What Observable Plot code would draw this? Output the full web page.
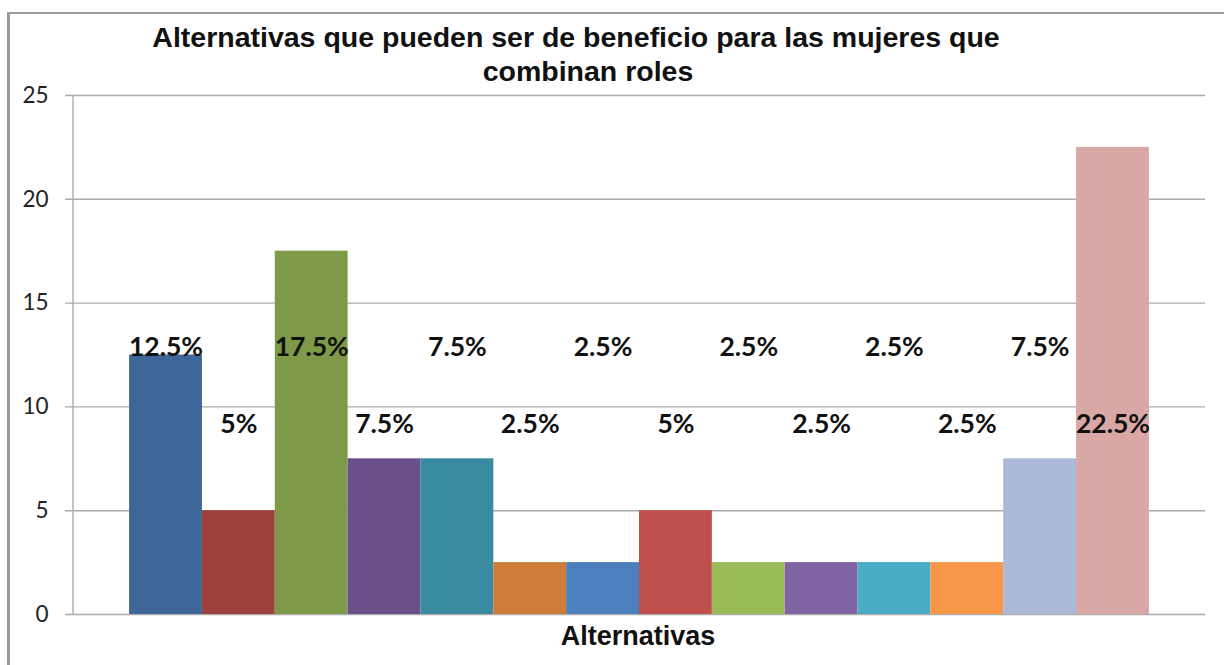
<!DOCTYPE html>
<html>
<head>
<meta charset="utf-8">
<script src="https://cdn.jsdelivr.net/npm/d3@7"></script>
<script src="https://cdn.jsdelivr.net/npm/@observablehq/plot@0.6"></script>
<style>
  html, body { margin: 0; padding: 0; background: #fff; }
  #wrap { position: relative; width: 1224px; height: 665px; overflow: hidden; background: #fff; }
  #border { position: absolute; left: 7px; top: 12px; width: 1400px; height: 800px;
            border-left: 3px solid #9a9a9a; border-top: 2px solid #9a9a9a; }
  #title { position: absolute; left: 0; width: 1152px; top: 20px; text-align: center;
           font-family: "Liberation Sans", Arial, sans-serif; font-weight: bold; font-size: 28.5px;
           line-height: 34px; color: #111; }
  #title .l2 { position: relative; left: 12px; }
  #xlabel { position: absolute; left: 0; width: 1276px; top: 619px; text-align: center;
           font-family: "Liberation Sans", Arial, sans-serif; font-weight: bold; font-size: 27px;
           line-height: 34px; color: #111; }
  #chart { position: absolute; left: 0; top: 0; }
</style>
</head>
<body>
<div id="wrap">
  <div id="border"></div>
  <div id="chart"></div>
  <div id="title">Alternativas que pueden ser de beneficio para las mujeres que<br><span class="l2">combinan roles</span></div>
  <div id="xlabel">Alternativas</div>
</div>
<script>
const categories = ["1","2","3","4","5","6","7","8","9","10","11","12","13","14"];
const values = [12.5, 5, 17.5, 7.5, 7.5, 2.5, 2.5, 5, 2.5, 2.5, 2.5, 2.5, 7.5, 22.5];
const labels = ["12.5%","5%","17.5%","7.5%","7.5%","2.5%","2.5%","5%","2.5%","2.5%","2.5%","2.5%","7.5%","22.5%"];
const colors = ["#3E6698","#9E413E","#7E9A48","#6A5088","#3A8BA1","#CE7C38","#4B7FBE","#C0504D","#9BBB59","#8064A2","#4BACC6","#F79646","#A9B9D7","#D9A7A6"];
const yTicks = [0, 5, 10, 15, 20, 25];

const data = categories.map((c, i) => ({cat: c, value: values[i], label: labels[i], color: colors[i], i}));

const chart = Plot.plot({
  width: 1224,
  height: 665,
  marginTop: 95,
  marginBottom: 51,
  marginLeft: 73,
  marginRight: 19,
  style: {background: "transparent", overflow: "visible"},
  x: {domain: categories, paddingInner: 0, paddingOuter: 0.77, align: 0.5, round: false, axis: null},
  y: {domain: [0, 25], ticks: yTicks, axis: null},
  marks: [
    Plot.ruleY(yTicks, {stroke: "#ababab", strokeWidth: 1.4, insetLeft: -8}),
    Plot.axisY({ticks: yTicks, tickSize: 0, tickPadding: 25, fontSize: 22.5, label: null,
                fontFamily: "Lato, 'Open Sans', sans-serif", fill: "#222"}),
    Plot.barY(data, {x: "cat", y: "value", fill: "color"}),
    Plot.text(data, {x: "cat", y: d => d.i % 2 === 0 ? 12.85 : 9.15, text: "label",
                     fontSize: 26.5, fontWeight: "bold", fill: "#111",
                     fontFamily: "Lato, 'Open Sans', sans-serif", lineAnchor: "middle"})
  ]
});

// vertical value-axis line, placed from the chart's own scales
const xs = chart.scale("x"), ys = chart.scale("y");
const x0 = xs.range[0];
d3.select(chart).append("line")
  .attr("x1", x0).attr("x2", x0)
  .attr("y1", ys.apply(25)).attr("y2", ys.apply(0))
  .attr("stroke", "#ababab").attr("stroke-width", 1.4);

document.getElementById("chart").appendChild(chart);
</script>
</body>
</html>
